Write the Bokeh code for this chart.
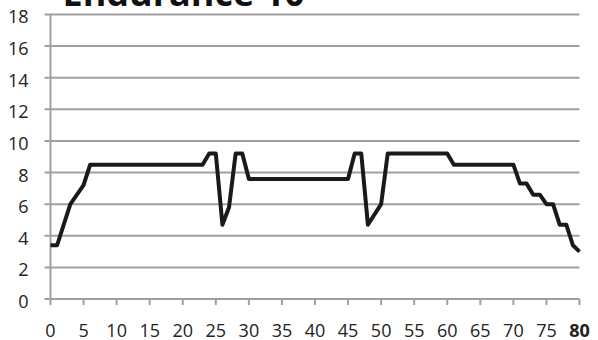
from bokeh.plotting import figure
from bokeh.models import Range1d
from bokeh.core.properties import value
from bokeh.embed import file_html
from bokeh.resources import INLINE

# data
minutes = [0, 1, 3, 5, 6, 23, 24, 25, 26, 27, 28, 29, 30, 45, 46, 47, 48, 50, 51,
           60, 61, 70, 71, 72, 73, 74, 75, 76, 77, 78, 79, 80]
level = [3.4, 3.4, 6.0, 7.2, 8.5, 8.5, 9.2, 9.2, 4.7, 5.8, 9.2, 9.2, 7.6, 7.6, 9.2, 9.2,
         4.7, 6.0, 9.2, 9.2, 8.5, 8.5, 7.3, 7.3, 6.6, 6.6, 6.0, 6.0, 4.7, 4.7, 3.4, 3.0]
x_ticks = list(range(0, 81, 5))
x_tick_labels = [str(t) for t in x_ticks]
x_label_styles = ["normal"] * (len(x_ticks) - 1) + ["bold"]
y_ticks = list(range(0, 19, 2))
y_tick_labels = [str(t) for t in y_ticks]
title_text = "Endurance 10"

FONT = "Open Sans"
GRID = "#a0a0a0"
TXT = "#222222"
X_MIN, X_MAX = 0, 80
Y_MIN, Y_MAX = 0, 18

PX_X = 6.6125   # pixels per minute
PX_Y = 15.806   # pixels per unit

# the frame covers the whole drawing; the data region is 0..80 x 0..18
p = figure(frame_width=584, frame_height=362, output_backend="svg", toolbar_location=None,
           x_range=Range1d(-43 / PX_X, 80 + 12 / PX_X),
           y_range=Range1d(-40.5 / PX_Y, 18 + 37 / PX_Y),
           x_axis_location=None, y_axis_location=None,
           min_border_left=0, min_border_right=0, min_border_top=0, min_border_bottom=0,
           styles={"margin-top": "-23px", "margin-left": "7px"})
p.outline_line_color = None
p.background_fill_color = "white"
p.border_fill_color = "white"
p.xgrid.grid_line_color = None
p.ygrid.grid_line_color = None

ny, nx = len(y_ticks), len(x_ticks)
# horizontal gridlines with the y tick stubs on the left
p.segment(x0=[X_MIN - 6 / PX_X] * ny, y0=y_ticks, x1=[X_MAX] * ny, y1=y_ticks,
          line_color=GRID, line_width=2)
# y axis line
p.segment(x0=[X_MIN], y0=[Y_MIN], x1=[X_MIN], y1=[Y_MAX], line_color=GRID, line_width=2)
# x tick marks below the zero line
p.segment(x0=x_ticks, y0=[Y_MIN] * nx, x1=x_ticks, y1=[Y_MIN - 6 / PX_Y] * nx,
          line_color=GRID, line_width=2)

p.line(minutes, level, line_color="#1a1a1a", line_width=4, line_join="round")

# y tick labels
p.text(x=[X_MIN - 22 / PX_X] * ny, y=[t - 2.5 / PX_Y for t in y_ticks], text=y_tick_labels,
       text_font=value(FONT), text_font_size="18px", text_color=TXT,
       text_align="right", text_baseline="alphabetic")
# x tick labels
p.text(x=x_ticks, y=[Y_MIN - 31.5 / PX_Y] * nx, text=x_tick_labels,
       text_font=value(FONT), text_font_size="18px", text_font_style=x_label_styles,
       text_color=TXT, text_align="center", text_baseline="alphabetic")
# title (its top is cut off by the window, as in the reference)
p.text(x=[X_MIN + 12 / PX_X], y=[Y_MAX + 22 / PX_Y], text=[title_text], text_font=value(FONT),
       text_font_size="36px", text_font_style="bold", text_color="#111111",
       text_align="left", text_baseline="alphabetic")

open("out.html", "w").write(file_html(p, INLINE))
